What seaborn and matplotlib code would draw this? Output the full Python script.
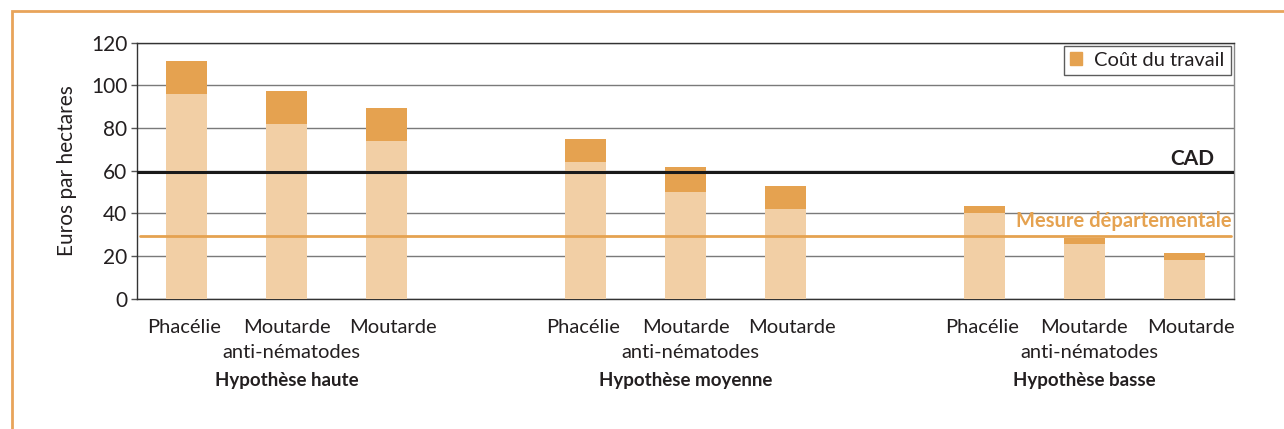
import pandas as pd
import matplotlib
matplotlib.use('Agg')
import matplotlib.pyplot as plt
from matplotlib.patches import Rectangle, Patch
from matplotlib.ticker import MultipleLocator
from matplotlib.transforms import ScaledTranslation
import seaborn as sns

# --- Data ---
GROUPS = ['Hypothèse haute', 'Hypothèse moyenne', 'Hypothèse basse']
CROPS = ['Phacélie', 'Moutarde', 'Moutarde']
CROP_SUBLINE = ['', 'anti-nématodes', '']
BASE_COST = [96, 82, 74, 64, 50, 42, 40, 25.5, 18]
LABOUR_COST = [15.5, 15.5, 15.5, 11, 11.5, 11, 3.5, 3, 3.5]
CAD_LEVEL = 59.5
MESURE_LEVEL = 29.5

LIGHT = '#F2CFA5'
ORANGE = '#E5A250'
TEXT = '#231F20'


def build_frame():
    rows = []
    i = 0
    for g in GROUPS:
        for j, c in enumerate(CROPS):
            rows.append({'slot': f'{g}|{j}', 'base': BASE_COST[i],
                         'total': BASE_COST[i] + LABOUR_COST[i]})
            i += 1
    return pd.DataFrame(rows)


def slot_order():
    order = []
    for k, g in enumerate(GROUPS):
        order += [f'{g}|{j}' for j in range(len(CROPS))]
        if k < len(GROUPS) - 1:
            order.append(f'gap{k}')
    return order


def main():
    df = build_frame()
    order = slot_order()

    sns.set_style('white')
    plt.rcParams['font.family'] = ['Lato', 'DejaVu Sans']
    plt.rcParams['text.color'] = TEXT

    fig = plt.figure(figsize=(12.84, 4.29), dpi=100)
    ax = fig.add_axes([0.1067, 0.3037, 0.8543, 0.5968])

    # stacked bars: total (labour colour) then base drawn over it
    sns.barplot(data=df, x='slot', y='total', order=order, color=ORANGE,
                width=0.41, saturation=1, linewidth=0, ax=ax, zorder=3)
    sns.barplot(data=df, x='slot', y='base', order=order, color=LIGHT,
                width=0.41, saturation=1, linewidth=0, ax=ax, zorder=4)

    ax.set_xlim(-0.5, len(order) - 0.5)
    ax.set_ylim(0, 120)
    ax.yaxis.set_major_locator(MultipleLocator(20))
    ax.yaxis.grid(True, color='#7a7a7a', lw=1)
    ax.set_axisbelow(True)

    # reference lines
    ax.axhline(CAD_LEVEL, color='#1a1a1a', lw=2.2, zorder=5)
    ax.axhline(MESURE_LEVEL, color=ORANGE, lw=2, xmin=0.003, xmax=0.997, zorder=5)
    ax.text(len(order) - 0.7, CAD_LEVEL + 3.4, 'CAD', ha='right', va='baseline',
            fontsize=15, fontweight='bold', color=TEXT)
    ax.text(len(order) - 0.52, MESURE_LEVEL + 4.2, 'Mesure départementale',
            ha='right', va='baseline', fontsize=14.5, fontweight='bold', color=ORANGE)

    # x axis: tick marks at slot boundaries, crop names written under the bars
    ax.set_xticks([])
    ax.set_xticks([i - 0.5 for i in range(len(order) + 1)], minor=True)
    ax.tick_params(axis='x', which='minor', length=4, width=1, color='#555555',
                   direction='out')
    ax.set_xlabel('')
    xaxis_tr = ax.get_xaxis_transform()
    line_dx = [-3, 0, 7]  # small horizontal offsets (px) seen in the reference
    for i, s in enumerate(order):
        if s.startswith('gap'):
            continue
        j = int(s.split('|')[1])
        tr = xaxis_tr + ScaledTranslation(line_dx[j] / 100, -34 / 100, fig.dpi_scale_trans)
        ax.text(i, 0, CROPS[j], transform=tr, ha='center', va='baseline',
                fontsize=14.5, color=TEXT)
        if CROP_SUBLINE[j]:
            tr2 = xaxis_tr + ScaledTranslation(5 / 100, -59 / 100, fig.dpi_scale_trans)
            ax.text(i, 0, CROP_SUBLINE[j], transform=tr2, ha='center',
                    va='baseline', fontsize=14.5, color=TEXT)

    ax.tick_params(axis='y', length=4, width=1, color='#555555', direction='out',
                   left=True, labelsize=15, labelcolor=TEXT, pad=3)
    ax.set_ylabel('Euros par hectares', fontsize=15, color=TEXT, labelpad=10)

    for side in ['left', 'bottom', 'top']:
        ax.spines[side].set_color('#333333')
        ax.spines[side].set_linewidth(1)
    ax.spines['right'].set_color('#888888')
    ax.spines['right'].set_linewidth(1)

    # group names
    for k, g in enumerate(GROUPS):
        x_data = k * 4 + 1
        x_fig = ax.transData.transform((x_data, 0))[0] / fig.bbox.width
        fig.text(x_fig, 0.114, g, ha='center', va='center', fontsize=13.5,
                 fontweight='bold', color=TEXT)

    leg = ax.legend(handles=[Patch(color=ORANGE, label='Coût du travail')],
                    loc='upper right', fontsize=14.5, frameon=True, fancybox=False,
                    handlelength=0.6, handleheight=0.6, handletextpad=0.6,
                    borderaxespad=0.15, borderpad=0.3)
    leg.get_frame().set_edgecolor('#333333')
    leg.get_frame().set_linewidth(1)

    # orange frame of the figure (only top and left inside the crop)
    fig.patches.append(Rectangle((12 / 1284, -0.1), 1.2, 1.1 - 11 / 429,
                                 transform=fig.transFigure, fill=False,
                                 edgecolor='#E8A45A', lw=2))

    fig.savefig('out.png', dpi=100)
    plt.close(fig)


if __name__ == '__main__':
    main()
